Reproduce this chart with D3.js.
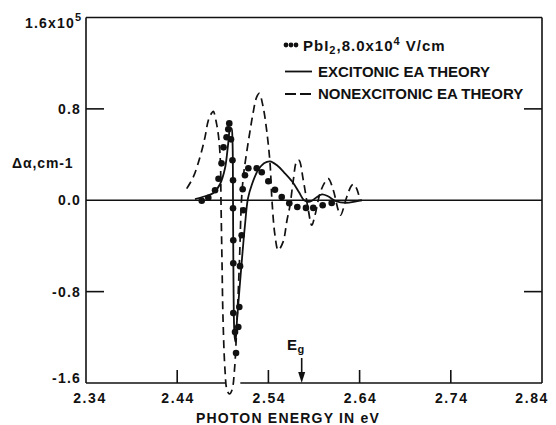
<!DOCTYPE html>
<html>
<head>
<meta charset="utf-8">
<script src="https://cdn.jsdelivr.net/npm/d3@7"></script>
<style>
  body { margin: 0; background: #fff; }
  text { font-family: "Liberation Sans", Arial, sans-serif; font-weight: bold; fill: #111; }
</style>
</head>
<body>
<svg id="chart" width="556" height="425"></svg>
<script>
// Electroabsorption spectrum of PbI2: measured points and two theoretical curves.
// Energies in eV, Δα in units of 1e5 cm^-1.

const measuredEnergy = [2.4669, 2.4741, 2.4815, 2.4853, 2.4886, 2.4908, 2.4941, 2.4960, 2.4971,
  2.4990, 2.5006, 2.5012, 2.5012, 2.5015, 2.5015, 2.5015, 2.5034, 2.5045,
  2.5070, 2.5081, 2.5089, 2.5107, 2.5125, 2.5118, 2.5143, 2.5180, 2.5272, 2.5327,
  2.5399, 2.5472, 2.5546, 2.5629, 2.5717, 2.5812, 2.5892, 2.5995, 2.6094];
const measuredDelta = [-0.004, 0.022, 0.087, 0.188, 0.323, 0.463, 0.551, 0.621, 0.673,
  0.533, 0.350, 0.175, -0.070, -0.350, -0.551, -0.988, -1.154, -1.337,
  -1.110, -0.935, -0.577, -0.306, -0.087, 0.096, 0.219, 0.280, 0.280, 0.245,
  0.166, 0.092, 0.029, -0.026, -0.059, -0.067, -0.067, -0.044, -0.024];

const excitonicEnergy = [2.4595, 2.4705, 2.4793, 2.4869, 2.4924, 2.4957, 2.4979, 2.4995, 2.5006,
  2.5012, 2.5017, 2.5028, 2.5039, 2.5056, 2.5100, 2.5143, 2.5176, 2.5220, 2.5286,
  2.5352, 2.5418, 2.5494, 2.5571, 2.5659, 2.5736, 2.5791, 2.5856, 2.5922, 2.5988,
  2.6053, 2.6141, 2.6251, 2.6361, 2.6426];
const excitonicDelta = [0.009, 0.035, 0.061, 0.140, 0.280, 0.481, 0.620, 0.630, 0.524,
  0.0, -0.699, -1.180, -1.241, -1.049, -0.612, -0.219, 0.017, 0.140, 0.262,
  0.323, 0.341, 0.306, 0.245, 0.166, 0.070, 0.0, -0.013, 0.022, 0.052,
  0.035, -0.009, -0.022, -0.009, 0.0];

const nonexcitonicEnergy = [2.4504, 2.4577, 2.4650, 2.4705, 2.4741, 2.4778, 2.4796, 2.4831, 2.4858,
  2.4875, 2.4880, 2.4891, 2.4902, 2.4924, 2.4946, 2.4973, 2.5001, 2.5028, 2.5056,
  2.5083, 2.5105, 2.5127, 2.5165, 2.5198, 2.5231, 2.5270, 2.5300, 2.5341, 2.5381,
  2.5418, 2.5439, 2.5472, 2.5508, 2.5560, 2.5604, 2.5637, 2.5673, 2.5710, 2.5735,
  2.5783, 2.5838, 2.5875, 2.5911, 2.5966, 2.6021, 2.6057, 2.6112, 2.6166, 2.6191,
  2.6259, 2.6313, 2.6339, 2.6375, 2.6404];
const nonexcitonicDelta = [0.102, 0.204, 0.378, 0.553, 0.699, 0.763, 0.778, 0.673, 0.524,
  0.306, 0.0, -0.524, -1.023, -1.486, -1.661, -1.696, -1.661, -1.486, -1.049,
  -0.524, 0.0, 0.219, 0.437, 0.603, 0.760, 0.900, 0.935, 0.822, 0.612,
  0.323, 0.0, -0.306, -0.437, -0.367, -0.175, -0.044, 0.175, 0.341, 0.350,
  0.175, -0.087, -0.219, -0.131, 0.061, 0.160, 0.190, 0.087, -0.087, -0.131,
  0.029, 0.131, 0.140, 0.087, 0.0];

const xTicks = [2.34, 2.44, 2.54, 2.64, 2.74, 2.84];
const xTickLabels = ["2.34", "2.44", "2.54", "2.64", "2.74", "2.84"];
const yTicks = [-1.6, -0.8, 0.0, 0.8, 1.6];
const yTickLabels = ["-1.6", "-0.8", "0.0", "0.8", "1.6x10"];
const bandGapEnergy = 2.5765;
const frameBreak = [2.4925, 2.5092]; // where the dashed curve dips through the bottom frame

const svg = d3.select("#chart");
const x = d3.scaleLinear().domain([2.34, 2.84]).range([86, 542]);
const y = d3.scaleLinear().domain([-1.6, 1.6]).range([383, 17.5]);

const ink = "#111";
const frame = svg.append("g").attr("stroke", ink).attr("stroke-width", 1.6).attr("fill", "none");

// frame: top, left, right, bottom (with the break)
frame.append("line").attr("x1", x(2.34)).attr("x2", x(2.84)).attr("y1", y(1.6)).attr("y2", y(1.6));
frame.append("line").attr("x1", x(2.34)).attr("x2", x(2.34)).attr("y1", y(1.6)).attr("y2", y(-1.6));
frame.append("line").attr("x1", x(2.84)).attr("x2", x(2.84)).attr("y1", y(1.6)).attr("y2", y(-1.6));
frame.append("line").attr("x1", x(2.34)).attr("x2", x(frameBreak[0])).attr("y1", y(-1.6)).attr("y2", y(-1.6));
frame.append("line").attr("x1", x(frameBreak[1])).attr("x2", x(2.84)).attr("y1", y(-1.6)).attr("y2", y(-1.6));

// zero line
svg.append("line").attr("x1", x(2.34)).attr("x2", x(2.84)).attr("y1", y(0)).attr("y2", y(0))
  .attr("stroke", ink).attr("stroke-width", 1.3);

// inner ticks
const innerY = yTicks.filter(v => Math.abs(v) > 0 && Math.abs(v) < 1.6);
innerY.forEach(v => {
  frame.append("line").attr("x1", x(2.34)).attr("x2", x(2.34) + 18).attr("y1", y(v)).attr("y2", y(v));
  frame.append("line").attr("x1", x(2.84)).attr("x2", x(2.84) - 18).attr("y1", y(v)).attr("y2", y(v));
});
xTicks.slice(1, -1).forEach(v => {
  frame.append("line").attr("x1", x(v)).attr("x2", x(v)).attr("y1", y(-1.6)).attr("y2", y(-1.6) - 13);
});

// tick labels
const labelFont = 14;
xTicks.forEach((v, i) => {
  const last = i === xTicks.length - 1;
  svg.append("text")
    .attr("x", last ? 549 : x(v) + (i === 0 ? 4 : 1))
    .attr("y", 403)
    .attr("text-anchor", last ? "end" : "middle")
    .style("font-size", labelFont + "px")
    .style("letter-spacing", "1.6px")
    .text(xTickLabels[i]);
});
yTicks.forEach((v, i) => {
  svg.append("text")
    .attr("x", i === yTicks.length - 1 ? 75 : 81)
    .attr("y", (i === yTicks.length - 1 ? y(v) + 10.5 : (i === 0 ? y(v) : y(v) + 5)))
    .attr("text-anchor", "end")
    .style("font-size", labelFont + "px")
    .style("letter-spacing", "1.2px")
    .text(yTickLabels[i]);
  if (i === yTicks.length - 1) {
    svg.append("text").attr("x", 75).attr("y", y(v) + 3)
      .style("font-size", "11px").text("5");
  }
});

// axis titles
svg.append("text").attr("x", 12).attr("y", 168)
  .style("font-size", "14px").style("letter-spacing", "0.9px").text("Δα,cm-1");
svg.append("text").attr("x", 288).attr("y", 423).attr("text-anchor", "middle")
  .style("font-size", "14px").style("letter-spacing", "1.2px").text("PHOTON ENERGY IN eV");

// curves
const line = d3.line().x(d => x(d[0])).y(d => y(d[1])).curve(d3.curveCatmullRom.alpha(0.5));
const nonexcitonic = nonexcitonicEnergy.map((e, i) => [e, nonexcitonicDelta[i]]);
const excitonic = excitonicEnergy.map((e, i) => [e, excitonicDelta[i]]);
const measured = measuredEnergy.map((e, i) => [e, measuredDelta[i]]);

svg.append("path").datum(nonexcitonic).attr("d", line)
  .attr("fill", "none").attr("stroke", ink).attr("stroke-width", 1.7)
  .attr("stroke-dasharray", "8,5");
svg.append("path").datum(excitonic).attr("d", line)
  .attr("fill", "none").attr("stroke", ink).attr("stroke-width", 1.8);
svg.append("g").selectAll("circle").data(measured).join("circle")
  .attr("cx", d => x(d[0])).attr("cy", d => y(d[1])).attr("r", 3.3).attr("fill", ink);

// band-gap marker
const gx = x(bandGapEnergy);
svg.append("line").attr("x1", gx).attr("x2", gx).attr("y1", 358).attr("y2", y(-1.6) - 8)
  .attr("stroke", ink).attr("stroke-width", 1.6);
svg.append("path")
  .attr("d", d3.line()([[gx - 3.5, y(-1.6) - 11], [gx + 3.5, y(-1.6) - 11], [gx, y(-1.6)]]) + "Z")
  .attr("fill", ink);
svg.append("text").attr("x", 287).attr("y", 350).style("font-size", "15px").text("E");
svg.append("text").attr("x", 297.5).attr("y", 353).style("font-size", "11px").text("g");

// legend
const lg = svg.append("g");
[286, 291, 296].forEach(cx => lg.append("circle").attr("cx", cx).attr("cy", 45).attr("r", 2.4).attr("fill", ink));
const t1 = lg.append("text").attr("x", 303).attr("y", 50.5).style("font-size", "15px").style("letter-spacing", "1px");
t1.append("tspan").text("PbI");
t1.append("tspan").attr("dy", 3).style("font-size", "11px").text("2");
t1.append("tspan").attr("dy", -3).text(",8.0x10");
t1.append("tspan").attr("dy", -6).style("font-size", "11px").text("4");
t1.append("tspan").attr("dy", 6).text(" V/cm");

lg.append("line").attr("x1", 285).attr("x2", 312).attr("y1", 71.5).attr("y2", 71.5)
  .attr("stroke", ink).attr("stroke-width", 1.8);
lg.append("text").attr("x", 318).attr("y", 76.7).style("font-size", "15px").text("EXCITONIC EA THEORY");

lg.append("line").attr("x1", 285).attr("x2", 312).attr("y1", 94).attr("y2", 94)
  .attr("stroke", ink).attr("stroke-width", 1.8).attr("stroke-dasharray", "11,4");
lg.append("text").attr("x", 318).attr("y", 98.5).style("font-size", "15px").text("NONEXCITONIC EA THEORY");
</script>
</body>
</html>
